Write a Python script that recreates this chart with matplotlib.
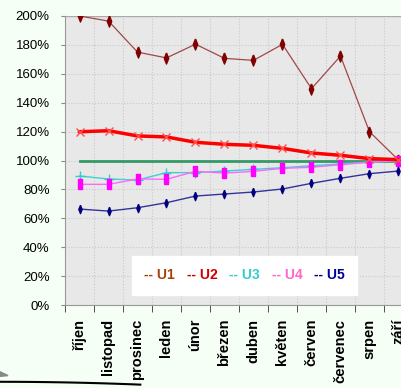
import matplotlib.pyplot as plt
import matplotlib.lines as mlines
import matplotlib.patches as mpatches
import numpy as np

plt.rcParams['font.family'] = ['Liberation Sans', 'DejaVu Sans']

# months (school year) and index values in percent
months = ['říjen', 'listopad', 'prosinec', 'leden', 'únor', 'březen',
          'duben', 'květen', 'červen', 'červenec', 'srpen', 'září']
u1 = [200, 196.5, 175, 171, 180.5, 170.7, 169.3, 180.4, 149.7, 172.3, 119.9, 100.3]
u2 = [119.9, 120.6, 117, 116.3, 112.6, 111.2, 110.5, 108.4, 105.2, 103.6, 101.3, 100.6]
u3 = [89.3, 87.2, 86.5, 91.6, 91.6, 92.7, 93.9, 95, 96.4, 97.6, 99, 99.4]
u4 = [83.5, 83.5, 87.2, 87, 92.5, 91.3, 92.5, 94.6, 95.3, 97.1, 98.8, 99.9]
u5 = [66.4, 65, 67.3, 70.8, 75.4, 76.8, 78.2, 80.3, 84.2, 87.7, 90.9, 92.7]
target = [100] * len(months)

# narrow marker shapes like the spreadsheet ones
tall_diamond = [(0, 1), (0.4, 0), (0, -1), (-0.4, 0), (0, 1)]
tall_rect = [(-0.45, -1), (0.45, -1), (0.45, 1), (-0.45, 1), (-0.45, -1)]

fig = plt.figure(figsize=(4.01, 3.88), dpi=100, facecolor='#F5FFF5')
ax = fig.add_axes([65 / 401, 1 - 305 / 388, 348 / 401, 289 / 388])
ax.set_facecolor('#E8E8E8')

x = np.arange(len(months))

# series
ax.plot(x, target, color='#339966', lw=2, zorder=3)
ax.plot(x, u1, color='#A04848', lw=0.9, marker=tall_diamond, ms=8, mec='#800000',
        mfc='#800000', zorder=4)
ax.plot(x, u2, color='#FF0000', lw=2.5, marker='x', ms=6, mec='#FF5050',
        mew=1, zorder=5)
ax.plot(x, u3, color='#40D0D0', lw=1, marker='+', ms=7, mec='#33CCCC', zorder=4)
ax.plot(x, u4, color='#FF66FF', lw=1, marker=tall_rect, ms=7, mec='#FF00FF',
        mfc='#FF00FF', zorder=4)
ax.plot(x, u5, color='#333399', lw=1, marker=tall_diamond, ms=6, mec='#000080',
        mfc='#000080', zorder=4)

# axes
ax.set_xlim(-0.5, len(months) - 0.5)
ax.set_ylim(0, 200)
ax.set_yticks(range(0, 201, 20))
ax.set_yticklabels([f'{v}%' for v in range(0, 201, 20)], fontsize=9.5)
ax.set_xticks(x)
ax.set_xticklabels(months, rotation=90, fontsize=10.5, fontweight='bold', va='top')
ax.set_xticks(np.arange(-0.5, len(months)), minor=True)
ax.tick_params(axis='x', which='major', length=0, pad=10)
ax.tick_params(axis='x', which='minor', length=5, color='#333333')
ax.tick_params(axis='y', length=3, color='#888888', pad=8)
ax.grid(axis='y', color='#C8C8C8', lw=0.8, ls=':')
ax.grid(axis='x', which='minor', color='#C8C8C8', lw=0.8, ls=':')
for side in ['top', 'right']:
    ax.spines[side].set_visible(False)
ax.spines['left'].set_color('#999999')
ax.spines['bottom'].set_color('#999999')
ax.axhline(200, color='#AAAAAA', lw=1)

# legend as coloured text only
labels = ['-- U1', '-- U2', '-- U3', '-- U4', '-- U5']
text_colors = ['#A8400A', '#D00000', '#33CCCC', '#FF66CC', '#000099']
handles = [mlines.Line2D([], [], lw=0) for _ in labels]
leg = ax.legend(handles, labels, ncol=5, loc='center',
                bbox_to_anchor=(244.5 / 401, 1 - 275 / 388),
                bbox_transform=fig.transFigure, handlelength=0, handletextpad=0,
                columnspacing=0.85, frameon=True, fancybox=False,
                borderpad=0.9, prop={'weight': 'bold', 'size': 10})
leg.get_frame().set_facecolor('white')
leg.get_frame().set_edgecolor('white')
leg.get_frame().set_alpha(1)
for txt, c in zip(leg.get_texts(), text_colors):
    txt.set_color(c)

# slide decoration bottom-left
cx = np.linspace(0, 0.35, 30)
fig.add_artist(mlines.Line2D(cx, 0.016 - 0.06 * cx ** 2, color='black', lw=1.5))
fig.add_artist(mpatches.Polygon([(0, 0.030), (0, 0.042), (0.02, 0.032)],
                                closed=True, color='#888888'))

fig.savefig('out.png', dpi=100, facecolor=fig.get_facecolor())
